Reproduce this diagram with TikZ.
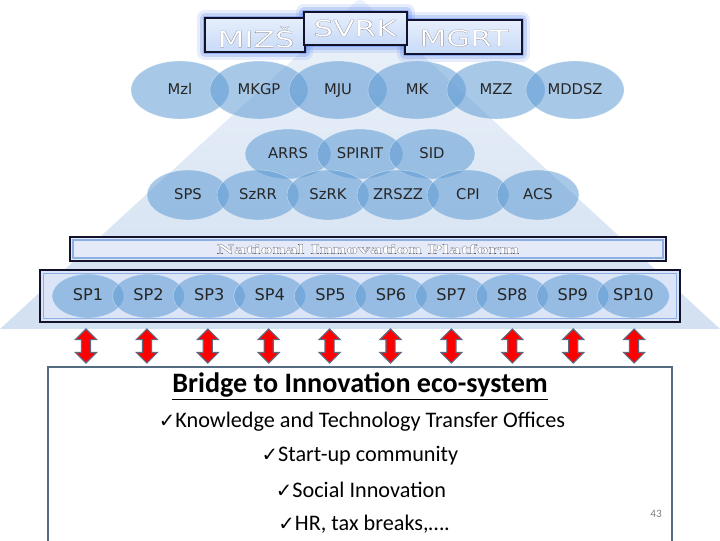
\documentclass[tikz,border=0pt]{standalone}
\usepackage{fontspec}
\setmainfont{Carlito}
\newfontfamily\labelfont{DejaVu Sans}
\newfontfamily\platfont{Liberation Serif}
\usetikzlibrary{shapes.geometric,shapes.arrows}
\definecolor{pyrbottom}{RGB}{210,224,241}
\definecolor{pyrtop}{RGB}{236,242,250}
\definecolor{ellblue}{RGB}{95,155,212}
\definecolor{glowblue}{RGB}{60,110,235}
\definecolor{boxfill}{RGB}{200,218,248}
\definecolor{navy}{RGB}{18,18,45}
\definecolor{innerblue}{RGB}{140,175,228}
\definecolor{platfill}{RGB}{228,234,248}
\definecolor{arrowred}{RGB}{255,0,0}
\definecolor{arrowedge}{RGB}{95,105,130}
\definecolor{framecol}{RGB}{85,108,128}
% hollow letters for the titles
\newcommand\hollow[2][0.06]{{\color{white}\special{pdf:literal direct 2 Tr #1 w 0.35 0.35 0.4 RG 1 g}#2\special{pdf:literal direct 0 Tr}}}
\newcommand\tickmark{{\labelfont\fontsize{14}{15}\selectfont ✓}}
\begin{document}
\begin{tikzpicture}[x=0.025cm,y=-0.025cm,
  ell/.style={ellipse, fill=ellblue, fill opacity=.55, draw=white, draw opacity=.5,
    line width=.3pt, text opacity=1, text=black!85, inner sep=0pt, text height=1.6ex, text depth=.2ex},
  rowone/.style={ell, minimum width=24.5mm, minimum height=14.5mm, font=\labelfont\fontsize{10.5}{12}\selectfont},
  rowtwo/.style={ell, minimum width=21.5mm, minimum height=12.5mm, font=\labelfont\fontsize{10.5}{12}\selectfont},
  spell/.style={ell, minimum width=18mm, minimum height=11mm, font=\labelfont\fontsize{11.5}{13}\selectfont},
  glow/.style={draw=glowblue, line join=round},
  topbox/.style={top color=boxfill!45!white, bottom color=boxfill, draw=navy, line width=1.3pt},
  toptext/.style={font=\labelfont\fontsize{16}{18}\selectfont},
  updown/.style={double arrow, shape border rotate=90, minimum height=8.5mm, minimum width=5mm,
    double arrow head extend=1.5mm, inner sep=1mm, fill=arrowred, draw=arrowedge, line width=.8pt},
  item/.style={font=\fontsize{15.8}{18}\selectfont}]
\clip (0,0) rectangle (720,540);
\fill[white] (0,0) rectangle (720,540);
% pyramid behind everything
\shade[top color=pyrtop, bottom color=pyrbottom] (0,329) -- (360,-2) -- (720,329) -- cycle;

% ministries on top
\foreach \a/\b/\c/\d in {205/18/305/52, 405/20/522/54, 304/12/407/45}{
  \draw[glow, line width=12, opacity=.12] (\a,\b) rectangle (\c,\d);
  \draw[glow, line width=7, opacity=.2] (\a,\b) rectangle (\c,\d);
  \draw[glow, line width=3, opacity=.35] (\a,\b) rectangle (\c,\d);
}
\draw[topbox] (205,18) rectangle (305,52);
\draw[topbox] (405,20) rectangle (522,54);
\draw[topbox] (304,12) rectangle (407,45);
\node[toptext] (mizs) at (256,37) {\scalebox{1.38}[1]{\hollow{MIZŠ}}};
\node[toptext] (svrk) at (355,28) {\scalebox{1.38}[1]{\hollow{SVRK}}};
\node[toptext] (mgrt) at (464,38) {\scalebox{1.38}[1]{\hollow{MGRT}}};

% ministries
\foreach \name [count=\i from 0] in {Mzl,MKGP,MJU,MK,MZZ,MDDSZ}
  \node[rowone] (min\i) at (180+79*\i,90) {\name};
% agencies
\foreach \name [count=\i from 0] in {ARRS,SPIRIT,SID}
  \node[rowtwo] (ag\i) at (288+72*\i,154) {\name};
\foreach \name [count=\i from 0] in {SPS,SzRR,SzRK,ZRSZZ,CPI,ACS}
  \node[ell, minimum width=20.5mm, minimum height=12.5mm, font=\labelfont\fontsize{10.5}{12}\selectfont]
    (inst\i) at (188+70*\i,195) {\name};

% platform bar
\draw[navy, line width=1.6pt, fill=platfill] (70,237) rectangle (666,261);
\draw[innerblue, line width=1pt] (73,240) rectangle (663,258);
\node (nip) at (368,249) {\platfont\bfseries\fontsize{9.7}{11}\selectfont\scalebox{1.75}[1]{\hollow[0.1]{National Innovation Platform}}};

% strategic partnerships
\draw[navy, line width=1.6pt, fill=platfill!70!boxfill] (40,270) rectangle (680,322);
\draw[innerblue, line width=1.2pt] (43.5,273.5) rectangle (676.5,318.5);
\foreach \i in {1,...,10}{
  \node[spell] (sp\i) at (88+60.6*\i-60.6,296) {SP\i};
  \node[updown] (link\i) at (86+60.9*\i-60.9,346) {};
}

% bridge box
\draw[framecol, line width=1.5pt] (48,545) |- (672,367) -- (672,545);
\node[font=\fontsize{20}{24}\selectfont\bfseries] (bridge) at (360,386) {\underline{Bridge to Innovation eco-system}};
\node[item] (kto) at (362,422) {\tickmark Knowledge and Technology Transfer Offices};
\node[item] (startup) at (360,456) {\tickmark Start-up community};
\node[item] (social) at (361,490) {\tickmark Social Innovation};
\node[item] (hr) at (364,524) {\tickmark HR, tax breaks,….};
\node[text=gray, font=\fontsize{8}{9}\selectfont] (page) at (656,514) {43};
\end{tikzpicture}
\end{document}
